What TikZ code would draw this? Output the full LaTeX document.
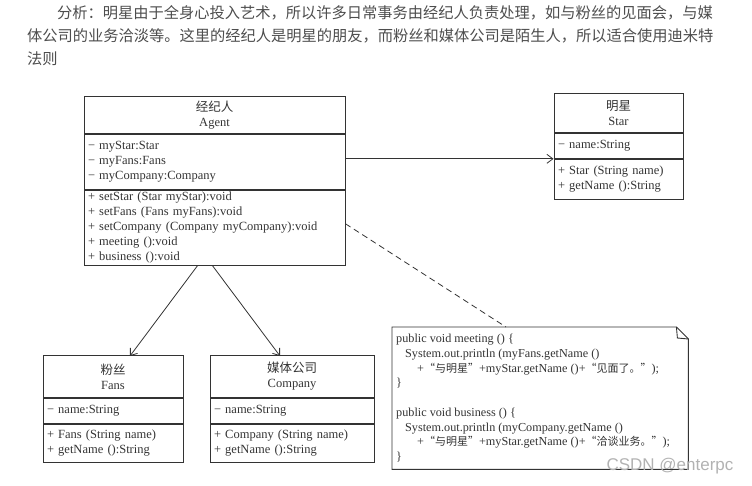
\documentclass[tikz,border=0pt]{standalone}
\usepackage{fontspec}
\setmainfont{Liberation Serif}
\newfontfamily\cjk{Noto Sans CJK SC}
\newfontfamily\marksans{Liberation Sans}
\usetikzlibrary{positioning,calc,arrows.meta}

\definecolor{inkgray}{HTML}{333333}
\definecolor{paragray}{HTML}{4D4D4D}
\newcommand{\umlfont}{\fontsize{12.5}{15}\selectfont}
\newcommand{\codefont}{\fontsize{12.2}{14.75}\selectfont}
\newcommand{\zh}[1]{{\cjk #1}}
\newcommand{\zhc}[1]{{\cjk\fontsize{11}{14.75}\selectfont #1}}

\begin{document}
\begin{tikzpicture}[
    x=1pt, y=-1pt,
    part/.style={draw=inkgray, line width=0.9pt, inner xsep=4pt, inner ysep=0pt, font=\umlfont, text=inkgray},
    head/.style={part, align=center},
    field/.style={part, align=left},
    notebox/.style={inner sep=0pt},
    notebody/.style={inner xsep=4pt, inner ysep=0pt, align=left, font=\codefont, text=inkgray},
    para/.style={inner sep=0pt, align=left, font=\cjk\fontsize{15.25}{23}\selectfont, text=paragray},
    assoc/.style={-{Straight Barb[length=6pt,width=9pt]}, draw=inkgray, line width=0.8pt},
    depend/.style={draw=inkgray, line width=0.8pt, dash pattern=on 6pt off 4pt}
]
\useasboundingbox (0,0) rectangle (752,485);

% Analysis paragraph
\node[para, anchor=north west] (analysis) at (27,5.5) {\hspace*{30pt}分析：明星由于全身心投入艺术，所以许多日常事务由经纪人负责处理，如与粉丝的见面会，与媒\\体公司的业务洽淡等。这里的经纪人是明星的朋友，而粉丝和媒体公司是陌生人，所以适合使用迪米特\\法则};

% Agent class
\node[head, text width=253pt, minimum height=37pt, anchor=north] (agenthead) at (214.5,96) {\zh{经纪人}\\Agent};
\node[field, text width=253pt, minimum height=55pt, below=0pt of agenthead] (agentattr) {− myStar:Star\\− myFans:Fans\\− myCompany:Company};
\node[field, text width=253pt, minimum height=75pt, below=0pt of agentattr] (agentops) {+ setStar (Star myStar):void\\+ setFans (Fans myFans):void\\+ setCompany (Company myCompany):void\\+ meeting ():void\\+ business ():void};

% Star class
\node[head, text width=121pt, minimum height=39pt, anchor=north] (starhead) at (618.5,93) {\zh{明星}\\Star};
\node[field, text width=121pt, minimum height=25pt, below=0pt of starhead] (starattr) {− name:String};
\node[field, text width=121pt, minimum height=40pt, below=0pt of starattr] (starops) {+ Star (String name)\\+ getName ():String};

% Fans class
\node[head, text width=132pt, minimum height=42pt, anchor=north] (fanshead) at (113,355) {\zh{粉丝}\\Fans};
\node[field, text width=132pt, minimum height=25pt, below=0pt of fanshead] (fansattr) {− name:String};
\node[field, text width=132pt, minimum height=38pt, below=0pt of fansattr] (fansops) {+ Fans (String name)\\+ getName ():String};

% Company class
\node[head, text width=156pt, minimum height=42pt, anchor=north] (companyhead) at (292,355) {\zh{媒体公司}\\Company};
\node[field, text width=156pt, minimum height=25pt, below=0pt of companyhead] (companyattr) {− name:String};
\node[field, text width=156pt, minimum height=38pt, below=0pt of companyattr] (companyops) {+ Company (String name)\\+ getName ():String};

% Note with code
\node[notebox, minimum width=296pt, minimum height=142pt, anchor=north west] (note) at (392,327) {};
\node[notebody, anchor=west] (notecode) at (note.west) {public void meeting () \{\\
\hspace*{9pt}System.out.println (myFans.getName ()\\
\hspace*{21pt}+\zhc{“与明星”}+myStar.getName ()+\zhc{“见面了。”});\\
\}\\[14.75pt]
public void business () \{\\
\hspace*{9pt}System.out.println (myCompany.getName ()\\
\hspace*{21pt}+\zhc{“与明星”}+myStar.getName ()+\zhc{“洽谈业务。”});\\
\}};
\draw[part] (note.north west) -- ($(note.north east)+(-12,0)$) -- ($(note.north east)+(0,12)$) -- (note.south east) -- (note.south west) -- cycle;
\draw[part] ($(note.north east)+(-12,0)$) -- ($(note.north east)+(-11,11)$) -- ($(note.north east)+(0,12)$);

% Connections
\draw[assoc] (agentattr.east |- starops.north) -- (starops.north west);
\draw[assoc] ($(agentops.south)+(-17,0)$) -- ($(fanshead.north)+(17,1)$);
\draw[assoc] ($(agentops.south)+(-2,0)$) -- ($(companyhead.north)+(-12,1)$);
\draw[depend] ($(agentops.east)+(0,-4)$) -- ($(note.north west)+(114,0)$);

% Watermark
\node[font=\marksans\fontsize{17}{17}\selectfont, text=gray!60] (watermark) at (670,466) {CSDN @enterpc};
\end{tikzpicture}
\end{document}
